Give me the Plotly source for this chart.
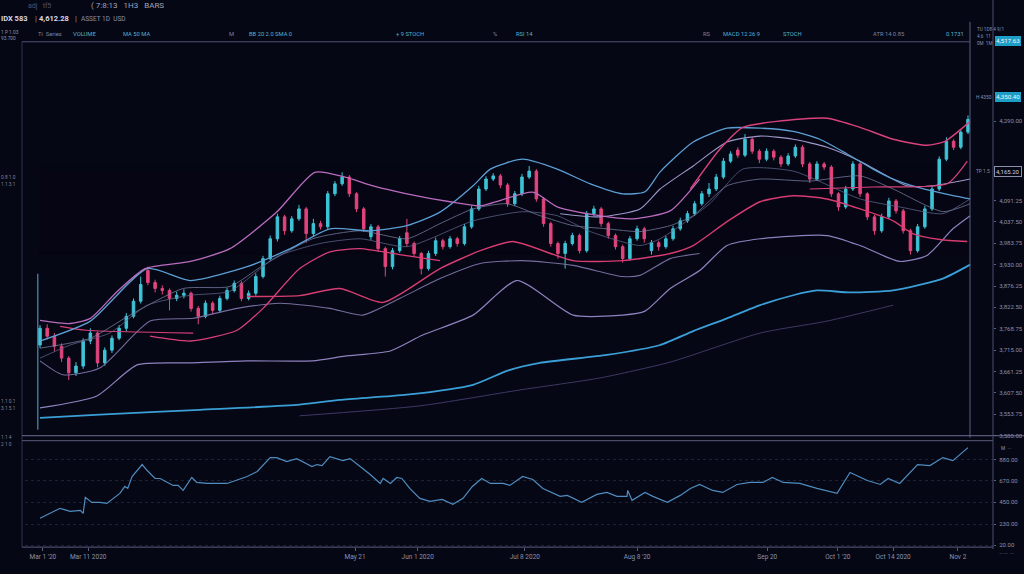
import plotly.graph_objects as go

W, H = 1024, 574

# ---------------- candle data (price) ----------------
OPEN = [3728,3770,3750,3725,3695,3658,3675,3738,3758,3683,
        3715,3745,3770,3800,3838,3915,3885,3870,3865,3845,
        3853,3858,3820,3800,3833,3815,3845,3865,3883,3845,
        3858,3900,3945,3995,4050,4015,4045,4070,4008,4033,
        4025,4108,4133,4150,4108,4070,4000,4025,3970,3925,
        3965,4010,3983,3958,3920,3958,3990,3975,3995,3983,
        4025,4070,4120,4145,4153,4130,4083,4108,4150,4165,
        4095,4033,3983,3958,3983,4003,3965,4058,4070,4033,
        4003,3975,3945,3995,4020,3965,3985,3975,3995,4020,
        4040,4058,4083,4108,4120,4150,4190,4218,4205,4245,
        4215,4195,4215,4200,4183,4203,4225,4183,4145,4183,
        4175,4108,4075,4120,4183,4108,4050,4015,4050,4090,
        4065,4015,3965,4025,4070,4120,4195,4240,4225,4263]
HIGH = [3778,3780,3758,3732,3700,3685,3745,3770,3762,3722,
        3752,3778,3808,3845,3900,3925,3892,3878,3870,3862,
        3868,3862,3826,3840,3838,3852,3872,3890,3888,3865,
        3908,3952,4003,4058,4055,4052,4080,4075,4045,4040,
        4115,4140,4162,4155,4112,4075,4032,4030,3975,3972,
        4002,4045,3988,3962,3965,3998,3995,4002,4000,4032,
        4078,4128,4152,4160,4158,4135,4115,4158,4178,4170,
        4100,4038,3988,3990,4010,4008,4065,4078,4075,4038,
        4008,3980,4002,4028,4025,3992,3990,4002,4028,4048,
        4065,4090,4115,4135,4158,4198,4215,4225,4258,4250,
        4220,4222,4220,4205,4210,4232,4230,4188,4190,4188,
        4180,4112,4128,4190,4188,4112,4055,4058,4098,4095,
        4070,4020,4032,4078,4128,4202,4250,4245,4270,4305]
LOW = [3720,3742,3712,3685,3640,3650,3668,3730,3672,3676,
       3708,3740,3762,3795,3832,3878,3860,3855,3815,3838,
       3845,3812,3780,3795,3805,3810,3840,3860,3838,3840,
       3852,3895,3940,3988,4005,4010,4040,3985,4000,4018,
       4020,4102,4128,4100,4062,4012,3992,3962,3900,3918,
       3960,3975,3950,3905,3915,3952,3968,3970,3975,3978,
       4020,4065,4115,4140,4122,4075,4078,4102,4145,4088,
       4025,3975,3945,3920,3978,3958,3960,4052,4025,3995,
       3968,3935,3940,3990,3985,3955,3965,3970,3990,4015,
       4035,4052,4078,4100,4115,4145,4185,4198,4200,4208,
       4185,4190,4192,4175,4178,4198,4175,4135,4140,4168,
       4100,4065,4070,4115,4100,4042,4005,4010,4045,4058,
       4008,3955,3960,4020,4065,4115,4190,4218,4220,4258]
CLOSE = [3770,3750,3725,3695,3658,3675,3738,3758,3683,3715,
         3745,3770,3800,3838,3880,3885,3870,3865,3845,3853,
         3858,3820,3800,3833,3815,3845,3865,3883,3845,3858,
         3900,3945,3995,4050,4015,4045,4070,4008,4033,4025,
         4108,4133,4150,4108,4070,4020,4025,3970,3925,3965,
         3995,3983,3958,3920,3958,3990,3975,3995,3983,4025,
         4070,4120,4145,4153,4130,4083,4108,4150,4165,4095,
         4033,3983,3958,3983,4003,3965,4058,4070,4033,4003,
         3975,3945,3995,4020,3995,3985,3975,3995,4020,4040,
         4058,4083,4108,4120,4150,4190,4208,4205,4245,4215,
         4195,4215,4200,4183,4203,4225,4183,4145,4183,4175,
         4108,4075,4120,4183,4108,4050,4015,4050,4090,4065,
         4015,3965,4025,4070,4120,4195,4240,4225,4263,4295]
CANDLE_X = list(range(len(CLOSE)))

# ---------------- indicator lines (x = bar position, y = price) ----------------
VIOLET_UP_X = [0,4.2,7.0,10.7,14.6,20.9,26.4,32.9,38.2,42.4,46.3,51.0,57.0,61.2,68.5,71.9,77.8,82.4,87.6,91.7]
VIOLET_UP_Y = [3790,3782,3795,3862,3920,3938,3970,4062,4162,4150,4128,4108,4088,4078,4112,4075,4053,4045,4065,4145]

RED_UP_X = [90.4,94.5,97.7,102.4,109.4,114.0,118.6,123.3,125.8,129.3]
RED_UP_Y = [4120,4220,4275,4290,4298,4275,4245,4230,4240,4290]

BLUE_UP_X = [0,7.0,14.9,20.9,28.8,34.8,40.3,45.9,51.0,55.6,60.2,62.6,67.1,71.9,76.5,81.0,84.1,86.2,90.8,95.5,100.1,104.7,108.4,112.2,115.8,118.6,121.3,125.8,129.3]
BLUE_UP_Y = [3738,3788,3920,3890,3925,3970,4020,4015,4028,4062,4128,4170,4195,4170,4133,4108,4113,4163,4238,4273,4273,4265,4245,4208,4170,4145,4128,4108,4095]

LAV_UP_X = [72.3,77.8,83.4,86.2,90.8,95.5,100.1,104.7,109.4,114.0,117.7,120.5,124.1,129.3]
LAV_UP_Y = [4058,4050,4070,4120,4178,4238,4253,4245,4225,4190,4153,4128,4128,4145]

RED_SHORT_X = [107.0,115.8,126.1,128.9]
RED_SHORT_Y = [4120,4125,4133,4190]

RED_A_X = [2.8,6.5,21.3]
RED_A_Y = [3775,3765,3758]

RED_B_X = [15.3,20.9,27.4,31.0,36.1,40.3,44.5,50.0,55.6]
RED_B_Y = [3750,3738,3765,3820,3920,3962,3970,3955,3940]

RED_C_X = [28.8,36.1,41.7,47.7,55.6,61.2,65.7,74.1,81.0,87.6,90.8,95.5,100.1,104.7,109.4,114.0,118.6,121.3,125.1,128.9]
RED_C_Y = [3850,3852,3870,3835,3920,3965,3988,3940,3940,3958,3978,4038,4088,4103,4095,4070,4040,4008,3993,3988]

LAV_PEAK_X = [0,7.9,13.5,20.9,28.8,37.9,42.4,48.7,53.2,60.2,66.3,74.1,81.0,84.1,87.6,91.7,95.5,100.1,109.4,114.0,119.5,123.3,126.9,129.3]
LAV_PEAK_Y = [3570,3600,3678,3683,3688,3688,3700,3713,3753,3803,3890,3803,3803,3813,3870,3915,3978,3995,4003,3978,3938,3953,4020,4053]

LAV_LOW_X = [0,3.2,8.3,15.3,21.3,27.4,33.4,40.3,44.8,50.0,55.6,61.2,67.1,74.1,81.0,83.4,87.6,91.7]
LAV_LOW_Y = [3688,3653,3670,3788,3795,3820,3833,3820,3803,3845,3895,3933,3940,3928,3900,3903,3945,3958]

MA_A_X = [0,7.0,12.5,19.9,26.4,31.0,37.9,44.5,51.0,55.6,60.2,64.9,69.5,74.1,78.8,83.4,87.6,90.8,95.5,100.1,107.0,114.0,118.6,125.5,129.3]
MA_A_Y = [3720,3745,3803,3870,3875,3928,3995,4015,3995,4033,4070,4083,4053,4028,4020,4013,4028,4053,4128,4145,4140,4153,4120,4063,4083]

MA_B_X = [0,4.2,9.7,14.9,20.9,26.4,32.9,38.9,44.5,51.0,60.2,67.1,71.9,76.5,83.4,86.2,93.1,97.7,104.7,114.0,119.5,125.5,129.3]
MA_B_Y = [3695,3728,3758,3828,3853,3863,3950,3983,3995,3975,4040,4063,4053,4013,3978,3995,4083,4170,4165,4095,4075,4058,4095]

BLUE_LONG_X = [0,8.3,22.2,36.1,41.7,51.0,60.2,64.9,69.5,78.8,86.2,90.8,95.5,100.1,104.7,108.0,112.6,118.6,125.5,129.3]
BLUE_LONG_Y = [3545,3553,3565,3578,3590,3603,3628,3663,3683,3703,3728,3763,3795,3828,3853,3865,3860,3865,3895,3930]

DIM_X = [36.1,52.8,66.7,77.8,87.6,100.1,109.4,118.6]
DIM_Y = [3550,3575,3615,3645,3685,3758,3788,3828]

# ---------------- lower panel oscillator ----------------
LOWER_X = [0,2.8,4.2,5.6,6.0,6.3,7.2,8.3,9.3,11.1,
           11.8,12.2,12.8,14.2,14.9,16.0,16.7,18.5,19.2,19.9,
           21.1,21.8,23.2,26.0,28.8,30.2,32.0,32.9,34.3,35.7,
           37.8,38.5,39.2,40.3,42.1,43.1,44.5,45.9,47.3,47.7,
           48.7,49.6,50.3,51.4,52.8,54.2,55.9,57.4,58.8,60.1,
           61.4,62.6,64.4,65.3,67.1,68.5,69.9,71.3,72.3,73.3,
           75.3,77.4,78.8,80.2,81.6,81.7,82.3,84.1,85.2,87.2,
           89.0,90.4,91.7,93.5,94.9,96.9,98.7,100.5,101.8,103.3,
           105.6,108.0,110.8,112.6,113.6,115.0,116.8,117.9,119.5,120.5,
           122.0,123.7,125.5,126.9,129.0]
LOWER_Y = [290,390,360,370,340,500,450,450,440,540,
           610,590,710,830,770,690,690,620,620,570,
           700,650,640,640,710,760,900,900,860,890,
           810,830,820,910,870,890,810,730,640,690,
           640,700,690,590,490,460,480,430,490,610,
           690,640,640,620,710,680,590,540,510,520,
           450,530,550,510,510,570,470,550,510,450,
           520,590,630,570,550,630,650,650,700,650,
           640,590,540,750,720,670,630,690,640,720,
           830,820,900,870,1000]

# ---------------- axis ticks ----------------
PRICE_TICKS = [3500,3553.75,3607.5,3661.25,3715,3768.75,3822.5,3876.25,3930,3983.75,4037.5,4091.25,4290]
LOWER_TICKS = [20,230,450,670,880]
DATE_TICKS = [0.4,6.7,43.8,52.5,67.4,83.0,101.1,110.9,118.6,127.6]
DATE_LABELS = ["Mar 1 '20","Mar 11 2020","May 21","Jun 1 2020","Jul 8 2020",
               "Aug 8 '20","Sep 20","Oct 1 '20","Oct 14 2020","Nov 2"]

# ---------------- styling ----------------
BG = "#060714"
UP = "#3ec4d6"
DN = "#e2457d"
BORDER = "#474c6c"
FONT = "Roboto"

def pxx(x):
    return x / W

def pyy(y):
    return 1 - y / H

fig = go.Figure()

lines = [
    (BLUE_LONG_X, BLUE_LONG_Y, "#3a9fd6", 1.8, 1.0),
    (DIM_X, DIM_Y, "#4b4479", 1.0, 0.8),
    (LAV_PEAK_X, LAV_PEAK_Y, "#8c82bf", 1.2, 1.0),
    (LAV_LOW_X, LAV_LOW_Y, "#7a73a6", 1.1, 0.95),
    (RED_A_X, RED_A_Y, "#d9407a", 1.2, 1.0),
    (RED_B_X, RED_B_Y, "#d9407a", 1.3, 1.0),
    (RED_C_X, RED_C_Y, "#d63d72", 1.4, 1.0),
    (MA_A_X, MA_A_Y, "#7e85a8", 0.9, 0.8),
    (MA_B_X, MA_B_Y, "#636a90", 0.9, 0.8),
    (LAV_UP_X, LAV_UP_Y, "#a79fd4", 1.1, 0.95),
    (BLUE_UP_X, BLUE_UP_Y, "#5b9fd4", 1.3, 1.0),
    (VIOLET_UP_X, VIOLET_UP_Y, "#b96cbd", 1.3, 1.0),
    (RED_UP_X, RED_UP_Y, "#d9427a", 1.4, 1.0),
    (RED_SHORT_X, RED_SHORT_Y, "#d9427a", 1.2, 1.0),
]
for xs, ys, col, w, op in lines:
    fig.add_trace(go.Scatter(x=xs, y=ys, mode="lines", line=dict(color=col, width=w, shape="spline", smoothing=0.6),
                             opacity=op, hoverinfo="skip", showlegend=False, xaxis="x", yaxis="y"))

fig.add_trace(go.Candlestick(
    x=CANDLE_X, open=OPEN, high=HIGH, low=LOW, close=CLOSE,
    increasing=dict(line=dict(color=UP, width=1), fillcolor=UP),
    decreasing=dict(line=dict(color=DN, width=1), fillcolor=DN),
    whiskerwidth=0, hoverinfo="skip", showlegend=False, xaxis="x", yaxis="y"))

fig.add_trace(go.Scatter(x=LOWER_X, y=LOWER_Y, mode="lines", line=dict(color="#4f8dc0", width=1.2),
                         hoverinfo="skip", showlegend=False, xaxis="x2", yaxis="y2"))

XR = [-2.085, 132.475]
XD = [pxx(25), pxx(993)]
tickfont = dict(family=FONT, size=6, color="#8b91ad")

fig.update_layout(
    width=W, height=H, margin=dict(l=0, r=0, t=0, b=0),
    paper_bgcolor=BG, plot_bgcolor=BG, showlegend=False,
    boxgap=0.5,
    font=dict(family=FONT, color="#8b91ad"),
    xaxis=dict(domain=XD, range=XR, anchor="y", showgrid=False, zeroline=False,
               showticklabels=False, ticks="", rangeslider=dict(visible=False), showline=False),
    yaxis=dict(domain=[pyy(438), pyy(42)], range=[3500, 4490], anchor="x", side="right",
               showgrid=False, zeroline=False, showline=False, tickvals=PRICE_TICKS,
               tickformat=",.2f", tickfont=tickfont, ticks="outside", ticklen=2,
               tickcolor="#5a5f80", ticklabelstandoff=2),
    xaxis2=dict(domain=XD, range=XR, anchor="y2", showgrid=False, zeroline=False,
                tickvals=DATE_TICKS, ticktext=DATE_LABELS, tickfont=dict(family=FONT, size=6.5, color="#8b91ad"),
                ticks="outside", ticklen=3, tickcolor="#5a5f80", showline=False),
    yaxis2=dict(domain=[pyy(550), pyy(443)], range=[0, 1070], anchor="x2", side="right",
                showgrid=True, gridcolor="#1d2138", griddash="dot", gridwidth=1, zeroline=False,
                tickvals=LOWER_TICKS, tickformat=",.2f", tickfont=tickfont, ticks="outside",
                ticklen=2, tickcolor="#5a5f80", ticklabelstandoff=2),
)

# frame lines
def hline(y, x0, x1, color=BORDER, width=1):
    fig.add_shape(type="line", xref="paper", yref="paper", x0=pxx(x0), x1=pxx(x1), y0=pyy(y), y1=pyy(y),
                  line=dict(color=color, width=width))

def vline(x, y0, y1, color=BORDER, width=1):
    fig.add_shape(type="line", xref="paper", yref="paper", x0=pxx(x), x1=pxx(x), y0=pyy(y0), y1=pyy(y1),
                  line=dict(color=color, width=width))

hline(42, 22, 970, "#4d5274")
vline(970, 22, 440, "#5a5f82")
vline(22, 42, 550, "#2f3350")
hline(438, 22, 1024, "#6a6f92")
hline(443, 22, 993, "#565b7c")
hline(550, 22, 993, "#5a5f82")
vline(993, 0, 552, "#4a4f70")
fig.add_shape(type="line", xref="x", yref="y", x0=-0.3, x1=-0.3, y0=3515, y1=3907,
              line=dict(color="#5aaad4", width=1))

def label(x, y, text, size=6, color="#8b91ad", anchor="left", bg=None, border=None, bold=False):
    fig.add_annotation(xref="paper", yref="paper", x=pxx(x), y=pyy(y), text=("<b>%s</b>" % text) if bold else text,
                       showarrow=False, xanchor=anchor, yanchor="middle",
                       font=dict(family=FONT, size=size, color=color),
                       bgcolor=bg, bordercolor=border, borderwidth=1 if border else 0, borderpad=1)

# header
label(27, 6, "adj   tf5", 7, "#4f556e")
label(90, 6, "( 7:8:13   1H3   BARS", 8, "#9ea3ba")
label(0, 19, "IDX 583", 7.5, "#d6dae8", bold=True)
label(34, 19, "|", 8, "#8b91ad")
label(38, 19, "4,612.28", 7.5, "#d6dae8", bold=True)
label(74, 19, "|", 8, "#8b91ad")
label(80, 19, "ASSET 1D  USD", 6.5, "#8b91ad")
label(0, 33, "1 P 1.03", 4.8, "#8b91ad")
label(0, 39, "93.700", 4.8, "#8b91ad")
cyan = "#4fb4d8"
gray = "#7d84a0"
for x, t, c in [(37, "Ti  Series", gray), (72, "VOLUME", cyan), (122, "MA 50 MA", cyan), (228, "M", gray),
                (248, "BB 20 2.0 SMA 0", cyan), (395, "+ 9 STOCH", cyan), (492, "%", gray),
                (515, "RSI 14", cyan), (702, "RS", gray), (722, "MACD 12 26 9", cyan),
                (782, "STOCH", cyan), (872, "ATR 14 0.85", gray), (945, "0.1731", cyan)]:
    label(x, 34, t, 5.8, c)

# top-right block
label(976, 30, "TU 1D8 4 9/1", 4.6, "#8b91ad")
label(976, 37, "4.6  11", 4.6, "#8b91ad")
label(976, 44, "0M  1M", 4.6, "#8b91ad")
label(1008, 41, "4,517.63", 6.2, "#eaf7ff", anchor="center", bg="#1c9ec6")

# right-side markers
label(975, 98, "H 4350", 4.8, "#8b91ad")
label(1008, 98, "4,350.40", 6.2, "#eaf7ff", anchor="center", bg="#1c9ec6")
label(975, 172, "TP 1.5", 4.8, "#8b91ad")
label(1008, 172, "4,165.20", 6, "#c9cde0", anchor="center", border="#8b91ad")
label(1000, 451, "M  ···", 4.8, "#8b91ad")
label(998, 556, "—·— ·—", 4.8, "#4f556e")

# left-side small labels
for y, t in [(178, "0.8 1.0"), (185, "1.1 3.1"), (404, "1.1 0.1"), (411, "3.1 5.1"), (440, "1.1 4"), (447, "2 1 0")]:
    label(0, y, t, 4.8, "#7d84a0")

fig.write_html("out.html")
